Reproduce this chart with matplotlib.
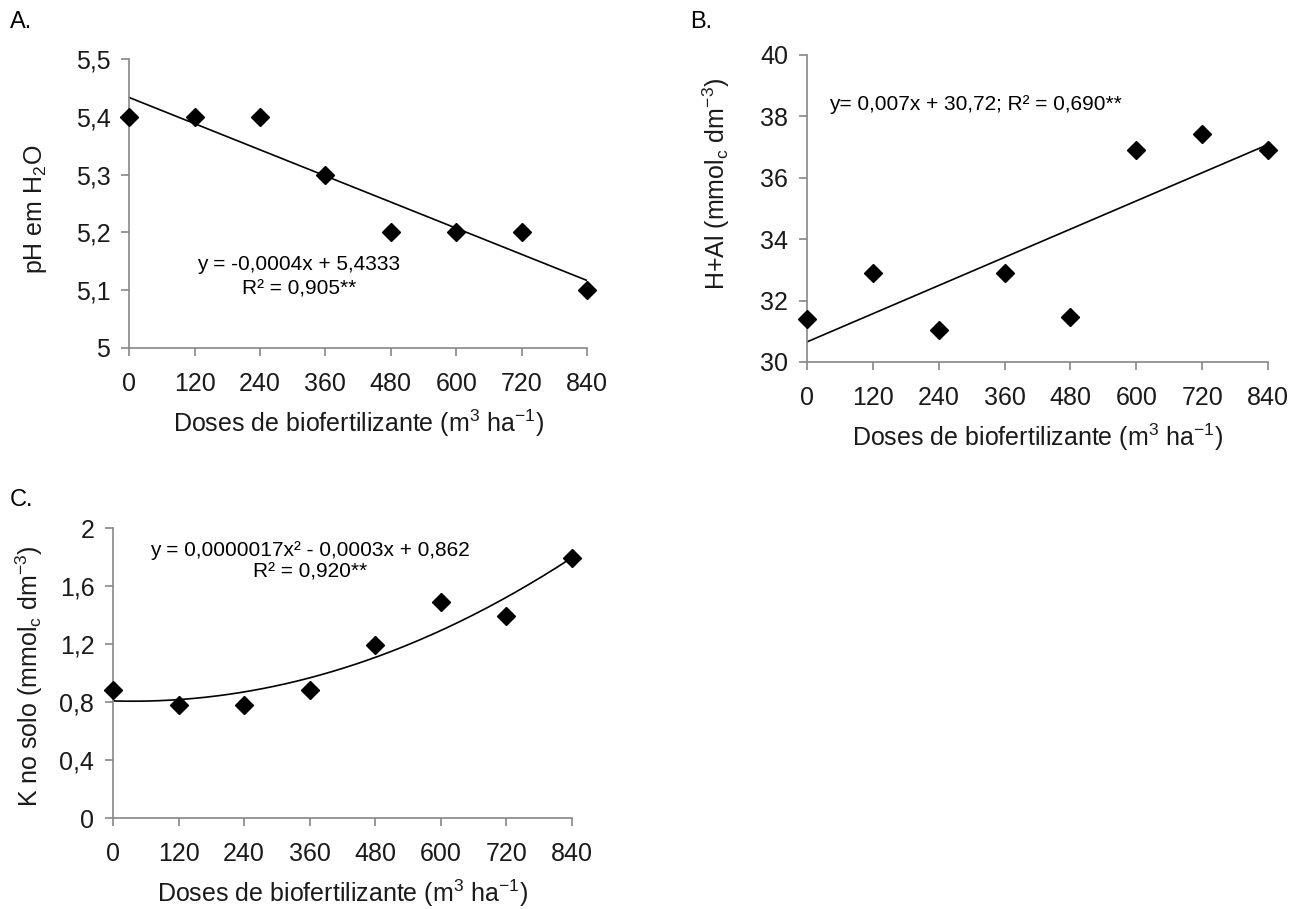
import matplotlib
matplotlib.use("Agg")
import matplotlib.pyplot as plt
import numpy as np

plt.rcParams['font.family'] = ['Liberation Sans', 'DejaVu Sans']
plt.rcParams['mathtext.fontset'] = 'custom'
plt.rcParams['mathtext.rm'] = 'Liberation Sans'
plt.rcParams['mathtext.it'] = 'Liberation Sans:italic'

# doses (m3/ha)
doses = [0, 120, 240, 360, 480, 600, 720, 840]

# valores
ph_agua = [5.4, 5.4, 5.4, 5.3, 5.2, 5.2, 5.2, 5.1]
h_al = [31.41, 32.91, 31.03, 32.91, 31.47, 36.9, 37.42, 36.9]
k_solo = [0.88, 0.78, 0.78, 0.88, 1.19, 1.49, 1.39, 1.79]

xlabel = 'Doses de biofertilizante (m$^{3}$ ha$^{-1}$)'
axis_gray = '#868686'
txt = '#1a1a1a'

fig = plt.figure(figsize=(13.05, 9.09), dpi=100)

paineis = [
    dict(rect=[0.0989, 0.6172, 0.3510, 0.3180], y=ph_agua, deg=1,
         ylim=(5, 5.5), yticks=[5, 5.1, 5.2, 5.3, 5.4, 5.5],
         ylabels=['5', '5,1', '5,2', '5,3', '5,4', '5,5'],
         ylabel='pH em H$_{2}$O', lab_xy=(-0.174, 0.48), letter='A.', lpos=(10, 22)),
    dict(rect=[0.6184, 0.6018, 0.3533, 0.3377], y=h_al, deg=1,
         ylim=(30, 40), yticks=[30, 32, 34, 36, 38, 40],
         ylabels=['30', '32', '34', '36', '38', '40'],
         ylabel='H+Al (mmol$_{\\mathrm{c}}$ dm$^{-3}$)', lab_xy=(-0.163, 0.58), letter='B.', lpos=(690, 22)),
    dict(rect=[0.0866, 0.1001, 0.3517, 0.3190], y=k_solo, deg=2,
         ylim=(0, 2), yticks=[0, 0.4, 0.8, 1.2, 1.6, 2],
         ylabels=['0', '0,4', '0,8', '1,2', '1,6', '2'],
         ylabel='K no solo (mmol$_{\\mathrm{c}}$ dm$^{-3}$)', lab_xy=(-0.148, 0.49), letter='C.', lpos=(10, 500)),
]

axes = []
for p in paineis:
    ax = fig.add_axes(p['rect'])
    axes.append(ax)
    x = np.array(doses)
    y = np.array(p['y'])

    # linha de tendencia
    coef = np.polyfit(x, y, p['deg'])
    xx = np.linspace(0, 840, 200)
    ax.plot(xx, np.polyval(coef, xx), color='black', lw=1.2, zorder=2)

    ax.plot(x, y, 'D', color='black', markersize=9.5, clip_on=False, zorder=3)

    ax.set_xlim(0, 840)
    ax.set_ylim(*p['ylim'])
    ax.set_xticks(doses)
    ax.set_xticklabels([str(d) for d in doses])
    ax.set_yticks(p['yticks'])
    ax.set_yticklabels(p['ylabels'])
    for s in ['top', 'right']:
        ax.spines[s].set_visible(False)
    for s in ['left', 'bottom']:
        ax.spines[s].set_color(axis_gray)
        ax.spines[s].set_linewidth(1.2)
    ax.tick_params(axis='both', direction='out', length=5.5, width=1.2,
                   color=axis_gray, labelsize=18, labelcolor=txt)
    ax.tick_params(axis='x', pad=12)
    ax.tick_params(axis='y', pad=8)
    ax.set_xlabel(xlabel, fontsize=18, color=txt, labelpad=8)
    ax.set_ylabel(p['ylabel'], fontsize=18, color=txt)
    ax.yaxis.set_label_coords(*p['lab_xy'])

    fig.text(p['lpos'][0] / 1305, 1 - p['lpos'][1] / 909, p['letter'],
             fontsize=17, ha='left', va='center')

axes[0].text(311, 5.145, 'y = -0,0004x + 5,4333', fontsize=15, ha='center', va='center')
axes[0].text(311, 5.102, 'R² = 0,905**', fontsize=15, ha='center', va='center')
axes[1].text(40, 38.38, 'y= 0,007x + 30,72; R² = 0,690**', fontsize=15, ha='left', va='center')
axes[2].text(360, 1.848, 'y = 0,0000017x² - 0,0003x + 0,862', fontsize=15, ha='center', va='center')
axes[2].text(360, 1.697, 'R² = 0,920**', fontsize=15, ha='center', va='center')

plt.savefig('out.png', dpi=100, facecolor='white')
plt.close()
